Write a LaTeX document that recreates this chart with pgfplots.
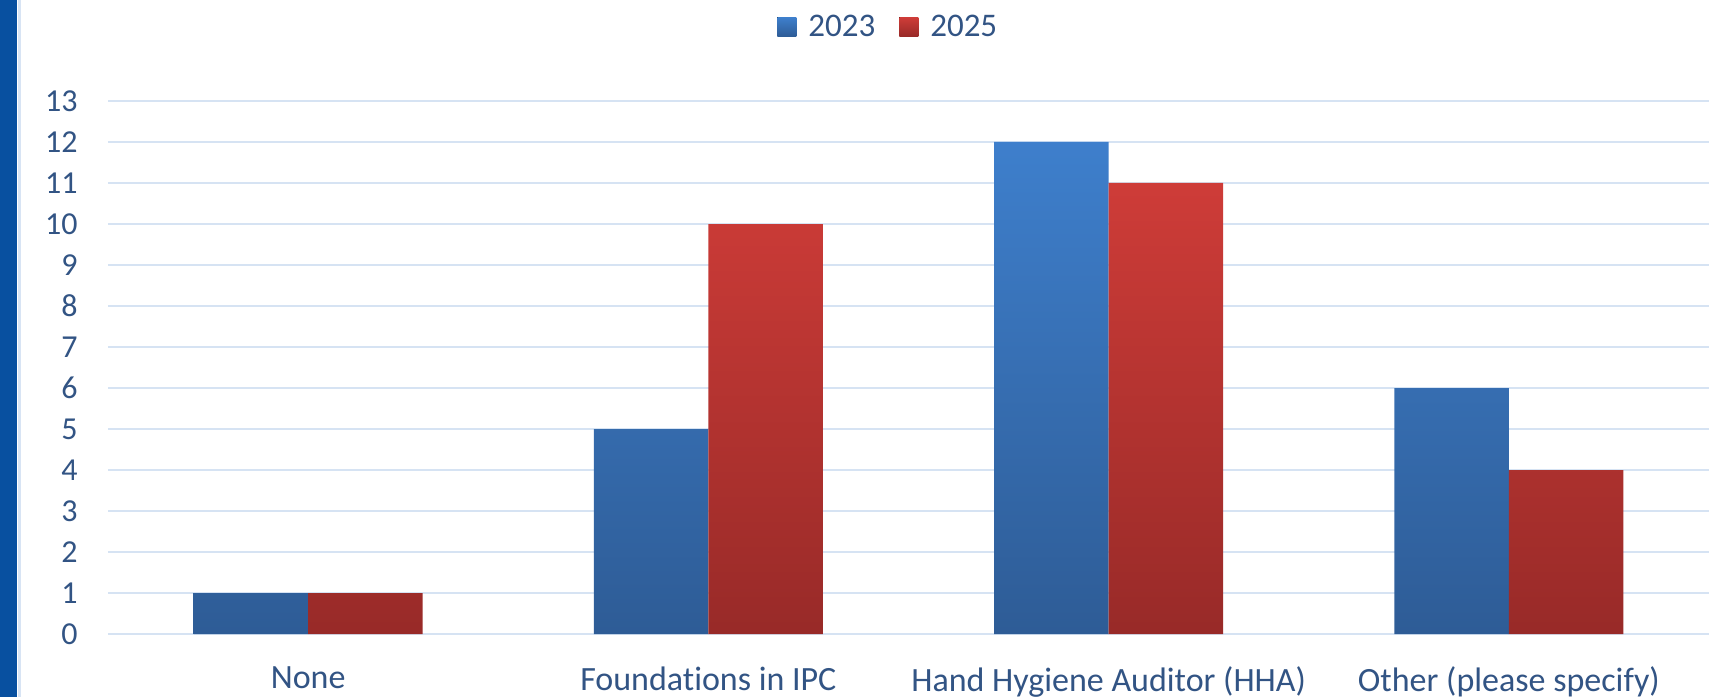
\documentclass[border=0pt]{standalone}
\usepackage{fontspec}
\setmainfont{Carlito}[Ligatures=CommonOff]
\usepackage{pgfplots}
\pgfplotsset{compat=1.18}
\definecolor{txt}{RGB}{50,84,132}
\definecolor{gridc}{RGB}{214,227,243}
\definecolor{sidebar}{RGB}{8,80,160}
\definecolor{sideline}{RGB}{216,228,244}
\definecolor{bluetop}{RGB}{62,127,204}
\definecolor{bluebot}{RGB}{46,92,150}
\definecolor{redtop}{RGB}{206,60,56}
\definecolor{redbot}{RGB}{152,42,40}
\begin{document}
\begin{tikzpicture}
\useasboundingbox (0pt,0pt) rectangle (864pt,348.5pt);
\fill[sidebar] (0pt,0pt) rectangle (8.5pt,348.5pt);
\fill[sideline] (9pt,0pt) rectangle (10.5pt,348.5pt);
\begin{axis}[
    at={(54pt,31.5pt)}, anchor=south west,
    scale only axis,
    width=800.5pt, height=266.5pt,
    ybar=0pt,
    bar width=57.25pt,
    xmin=-0.5, xmax=3.5,
    ymin=0, ymax=13,
    xtick={0,1,2,3},
    xticklabels={None,Foundations in IPC,Hand Hygiene Auditor (HHA),Other (please specify)},
    ytick={0,1,...,13},
    axis line style={draw=none},
    major tick length=0pt,
    ymajorgrids,
    grid style={gridc, line width=1pt},
    /pgf/number format/assume math mode=true,
    tick label style={font=\fontsize{16}{19}\selectfont, text=txt},
    yticklabel style={anchor=east, inner sep=0pt, xshift=-15pt},
    xticklabel style={anchor=north, inner sep=0pt, yshift=-16pt,
        font=\fontsize{17}{20}\selectfont},
    legend style={
        at={(0.488,1.139)}, anchor=center,
        legend columns=-1, draw=none, fill=none,
        font=\fontsize{16.5}{19}\selectfont, text=txt,
        /tikz/every odd column/.append style={column sep=4pt},
        /tikz/every even column/.append style={column sep=10pt}
    },
    legend image code/.code={
        \fill[#1] (0pt,-4.75pt) rectangle (9.5pt,4.75pt);},
    ]
\addplot[draw=none, top color=bluetop, bottom color=bluebot] coordinates { % 2023
(0,1) (1,5) (2,12) (3,6)
};
\addplot[draw=none, top color=redtop, bottom color=redbot] coordinates { % 2025
(0,1) (1,10) (2,11) (3,4)
};
\legend{2023,2025}
\end{axis}
\end{tikzpicture}
\end{document}
